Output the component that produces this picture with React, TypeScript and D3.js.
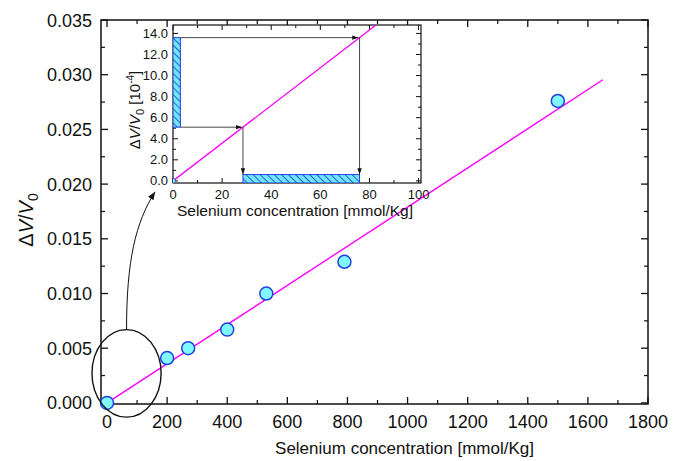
import React from "react";
import * as d3 from "d3";

const seleniumConc = [0, 200, 270, 400, 530, 790, 1500];
const deltaV = [0, 0.0041, 0.005, 0.0067, 0.01, 0.0129, 0.0276];
const fitSlope = 1.79e-5;
const fitRange = [0, 1650];
const xTicks = [0, 200, 400, 600, 800, 1000, 1200, 1400, 1600, 1800];
const yTicks = [0, 0.005, 0.01, 0.015, 0.02, 0.025, 0.03, 0.035];
const insetXTicks = [0, 20, 40, 60, 80, 100];
const insetYTicks = [0, 2, 4, 6, 8, 10, 12, 14];
const insetSlope = fitSlope * 1e4; // in 10^-4 units
const rangeBarY = [5.1, 13.6];
const rangeBarX = [5.1 / insetSlope, 13.6 / insetSlope];
const ellipseAnno = { cx: 65, cy: 0.0027, rx: 115, ry: 0.004 };
const arrowAnno = [
  [65, 0.0067],
  [65, 0.013],
  [95, 0.0165],
  [160, 0.0193],
];

const W = 674;
const H = 461;
const FONT = "'Liberation Sans', Arial, Helvetica, sans-serif";

export default function App() {
  const x = d3.scaleLinear().domain([-20, 1800]).range([101, 648]);
  const y = d3.scaleLinear().domain([-0.0001, 0.035]).range([404, 20]);
  const ix = d3.scaleLinear().domain([0, 101]).range([173, 421]);
  const iy = d3.scaleLinear().domain([-0.2, 14.8]).range([183, 25]);

  const [x0, x1] = x.range();
  const [yb, yt] = y.range();
  const [ix0, ix1] = ix.range();
  const [iyb, iyt] = iy.range();

  const xMinor = d3.range(100, 1800, 200);
  const yMinor = d3.range(0.0025, 0.035, 0.005);
  const ixMinor = d3.range(10, 100, 20);
  const iyMinor = d3.range(1, 15, 2);

  const fitLine = d3.line<number>().x((d) => x(d)).y((d) => y(d * fitSlope))(fitRange);
  const insetTop = 14.8 / insetSlope;
  const insetLine = d3.line<number>().x((d) => ix(d)).y((d) => iy(d * insetSlope))([0, insetTop]);

  const ap = arrowAnno.map(([a, b]) => [x(a), y(b)]);
  const arrowPath = `M${ap[0][0]},${ap[0][1]} C${ap[1][0]},${ap[1][1]} ${ap[2][0]},${ap[2][1]} ${ap[3][0]},${ap[3][1]}`;

  const barStroke = "#2040e0";

  return (
    <svg width={W} height={H} style={{ position: "absolute", left: 0, top: 0, background: "#fff" }} fontFamily={FONT}>
      <defs>
        <pattern id="hatch" patternUnits="userSpaceOnUse" width="5" height="5" patternTransform="rotate(-45)">
          <rect width="5" height="5" fill="#6fe6ff" />
          <line x1="0" y1="0" x2="0" y2="5" stroke="#1a3ad0" strokeWidth="1.6" />
        </pattern>
        <marker id="ah" viewBox="0 0 10 10" refX="10" refY="5" markerWidth="7" markerHeight="7" orient="auto">
          <path d="M0,1.5 L10,5 L0,8.5 z" fill="#111" />
        </marker>
        <marker id="ah2" viewBox="0 0 10 10" refX="10" refY="5" markerWidth="8" markerHeight="8" orient="auto">
          <path d="M0,1 L10,5 L0,9 z" fill="#111" />
        </marker>
      </defs>

      {/* main frame */}
      <rect x={x0} y={yt} width={x1 - x0} height={yb - yt} fill="none" stroke="#111" strokeWidth={1.5} />
      {xTicks.map((t) => (
        <g key={"xt" + t}>
          <line x1={x(t)} x2={x(t)} y1={yb} y2={yb - 7} stroke="#111" strokeWidth={1.3} />
          <line x1={x(t)} x2={x(t)} y1={yt} y2={yt + 7} stroke="#111" strokeWidth={1.3} />
          <text x={x(t)} y={428} textAnchor="middle" fontSize={18} fill="#111">{t}</text>
        </g>
      ))}
      {xMinor.map((t) => (
        <g key={"xm" + t}>
          <line x1={x(t)} x2={x(t)} y1={yb} y2={yb - 4} stroke="#111" strokeWidth={1.2} />
          <line x1={x(t)} x2={x(t)} y1={yt} y2={yt + 4} stroke="#111" strokeWidth={1.2} />
        </g>
      ))}
      {yTicks.map((t) => (
        <g key={"yt" + t}>
          <line x1={x0} x2={x0 + 7} y1={y(t)} y2={y(t)} stroke="#111" strokeWidth={1.3} />
          <line x1={x1} x2={x1 - 7} y1={y(t)} y2={y(t)} stroke="#111" strokeWidth={1.3} />
          <text x={92} y={y(t) + 6.5} textAnchor="end" fontSize={18} fill="#111">{t.toFixed(3)}</text>
        </g>
      ))}
      {yMinor.map((t) => (
        <g key={"ym" + t}>
          <line x1={x0} x2={x0 + 4} y1={y(t)} y2={y(t)} stroke="#111" strokeWidth={1.2} />
          <line x1={x1} x2={x1 - 4} y1={y(t)} y2={y(t)} stroke="#111" strokeWidth={1.2} />
        </g>
      ))}

      <text x={(x0 + x1) / 2 + 30} y={454} textAnchor="middle" fontSize={17} fill="#111">
        Selenium concentration [mmol/Kg]
      </text>
      <text transform="translate(33,220) rotate(-90)" textAnchor="middle" fontSize={20} fill="#111">
        <tspan>Δ</tspan>
        <tspan fontStyle="italic">V</tspan>
        <tspan>/</tspan>
        <tspan fontStyle="italic">V</tspan>
        <tspan fontSize={14} dy={5}>0</tspan>
      </text>

      {/* fit line */}
      <path d={fitLine || ""} stroke="#ff00ff" strokeWidth={1.4} fill="none" />

      {/* data points */}
      {seleniumConc.map((c, i) => (
        <circle key={"p" + i} cx={x(c)} cy={y(deltaV[i])} r={6.5} fill="#80f8ff" stroke={barStroke} strokeWidth={1.5} />
      ))}

      {/* ellipse annotation */}
      <ellipse
        cx={x(ellipseAnno.cx)}
        cy={y(ellipseAnno.cy)}
        rx={x(ellipseAnno.rx) - x(0)}
        ry={y(0) - y(ellipseAnno.ry)}
        fill="none"
        stroke="#111"
        strokeWidth={1.4}
      />
      <path d={arrowPath} fill="none" stroke="#111" strokeWidth={1} markerEnd="url(#ah2)" />

      {/* inset */}
      <rect x={ix0} y={iyt} width={ix1 - ix0} height={iyb - iyt} fill="#fff" stroke="#111" strokeWidth={1.2} />
      <clipPath id="insetClip">
        <rect x={ix0} y={iyt} width={ix1 - ix0} height={iyb - iyt} />
      </clipPath>
      {insetXTicks.map((t) => (
        <g key={"ixt" + t}>
          <line x1={ix(t)} x2={ix(t)} y1={iyb} y2={iyb - 5} stroke="#111" strokeWidth={1} />
          <line x1={ix(t)} x2={ix(t)} y1={iyt} y2={iyt + 5} stroke="#111" strokeWidth={1} />
          <text x={ix(t)} y={iyb + 16} textAnchor="middle" fontSize={13} fill="#111">{t}</text>
        </g>
      ))}
      {ixMinor.map((t) => (
        <g key={"ixm" + t}>
          <line x1={ix(t)} x2={ix(t)} y1={iyb} y2={iyb - 3} stroke="#111" strokeWidth={1} />
          <line x1={ix(t)} x2={ix(t)} y1={iyt} y2={iyt + 3} stroke="#111" strokeWidth={1} />
        </g>
      ))}
      {insetYTicks.map((t) => (
        <g key={"iyt" + t}>
          <line x1={ix0} x2={ix0 + 5} y1={iy(t)} y2={iy(t)} stroke="#111" strokeWidth={1} />
          <line x1={ix1} x2={ix1 - 5} y1={iy(t)} y2={iy(t)} stroke="#111" strokeWidth={1} />
          <text x={168} y={iy(t) + 4.5} textAnchor="end" fontSize={13} fill="#111">{t.toFixed(1)}</text>
        </g>
      ))}
      {iyMinor.map((t) => (
        <g key={"iym" + t}>
          <line x1={ix0} x2={ix0 + 3} y1={iy(t)} y2={iy(t)} stroke="#111" strokeWidth={1} />
          <line x1={ix1} x2={ix1 - 3} y1={iy(t)} y2={iy(t)} stroke="#111" strokeWidth={1} />
        </g>
      ))}
      <text x={(ix0 + ix1) / 2 - 2} y={216} textAnchor="middle" fontSize={15.5} fill="#111">
        Selenium concentration [mmol/Kg]
      </text>
      <text transform="translate(140,110) rotate(-90)" textAnchor="middle" fontSize={15} fill="#111">
        <tspan>Δ</tspan>
        <tspan fontStyle="italic">V</tspan>
        <tspan>/</tspan>
        <tspan fontStyle="italic">V</tspan>
        <tspan fontSize={11} dy={4}>0</tspan>
        <tspan dy={-4}> [10</tspan>
        <tspan fontSize={10} dy={-6}>-4</tspan>
        <tspan dy={6}>]</tspan>
      </text>

      <g clipPath="url(#insetClip)">
        <path d={insetLine || ""} stroke="#ff00ff" strokeWidth={1.3} fill="none" />
        <circle cx={ix(0)} cy={iy(0)} r={2.5} fill="#80f8ff" stroke={barStroke} strokeWidth={0.8} />
        {/* vertical range bar */}
        <rect
          x={ix(0)}
          y={iy(rangeBarY[1])}
          width={ix(3) - ix(0)}
          height={iy(rangeBarY[0]) - iy(rangeBarY[1])}
          fill="url(#hatch)"
          stroke={barStroke}
          strokeWidth={1}
        />
        {/* horizontal range bar */}
        <rect
          x={ix(rangeBarX[0])}
          y={iy(0.6)}
          width={ix(rangeBarX[1]) - ix(rangeBarX[0])}
          height={iy(-0.2) - iy(0.6)}
          fill="url(#hatch)"
          stroke={barStroke}
          strokeWidth={1}
        />
        {rangeBarY.map((v, i) => (
          <g key={"arr" + i}>
            <line x1={ix(3)} x2={ix(rangeBarX[i]) - 1} y1={iy(v)} y2={iy(v)} stroke="#333" strokeWidth={0.9} markerEnd="url(#ah)" />
            <line x1={ix(rangeBarX[i])} x2={ix(rangeBarX[i])} y1={iy(v)} y2={iy(0.6)} stroke="#333" strokeWidth={0.9} markerEnd="url(#ah)" />
          </g>
        ))}
      </g>
    </svg>
  );
}
